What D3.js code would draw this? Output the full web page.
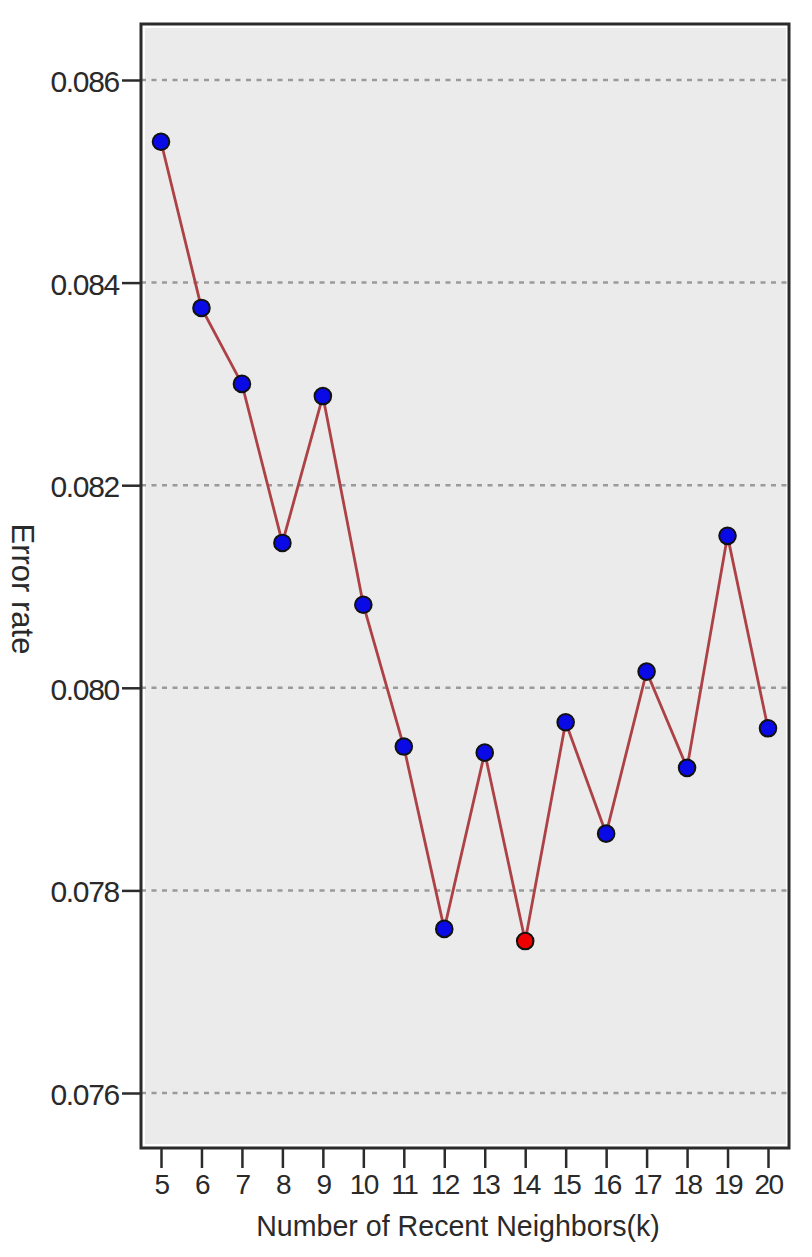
<!DOCTYPE html>
<html>
<head>
<meta charset="utf-8">
<script src="https://cdn.jsdelivr.net/npm/d3@7"></script>
<style>
  html, body { margin: 0; padding: 0; background: #ffffff; }
  svg { display: block; }
  text { font-family: "Liberation Sans", Arial, sans-serif; fill: #2a2a2a; }
</style>
</head>
<body>
<svg id="chart" width="812" height="1257"></svg>
<script>
// ---- data ----
const kValues = [5, 6, 7, 8, 9, 10, 11, 12, 13, 14, 15, 16, 17, 18, 19, 20];
const errorRates = [0.08539, 0.08375, 0.08300, 0.08143, 0.08288, 0.08082, 0.07942, 0.07762,
                    0.07936, 0.07750, 0.07966, 0.07856, 0.08016, 0.07921, 0.08150, 0.07960];
const yTicks = [0.076, 0.078, 0.080, 0.082, 0.084, 0.086];
const xLabel = "Number of Recent Neighbors(k)";
const yLabel = "Error rate";
const bestK = 14;

// ---- layout ----
const svg = d3.select("#chart");
const frame = { left: 141, top: 24, right: 789, bottom: 1148 };

const x = d3.scaleLinear().domain([5, 20]).range([161, 768]);
const y = d3.scaleLinear().domain([0.076, 0.086]).range([1093, 80]);

// panel
svg.append("rect")
  .attr("x", frame.left).attr("y", frame.top)
  .attr("width", frame.right - frame.left).attr("height", frame.bottom - frame.top)
  .attr("fill", "#ffffff");
svg.append("rect")
  .attr("x", frame.left + 4).attr("y", frame.top + 4)
  .attr("width", frame.right - frame.left - 7).attr("height", frame.bottom - frame.top - 8)
  .attr("fill", "#ebebeb");

// grid
svg.append("g").selectAll("line").data(yTicks).join("line")
  .attr("x1", frame.left).attr("x2", frame.right)
  .attr("y1", d => y(d)).attr("y2", d => y(d))
  .attr("stroke", "#9a9a9a").attr("stroke-width", 2.5)
  .attr("stroke-dasharray", "5,5.5");

// frame border
svg.append("rect")
  .attr("x", frame.left).attr("y", frame.top)
  .attr("width", frame.right - frame.left).attr("height", frame.bottom - frame.top)
  .attr("fill", "none").attr("stroke", "#2b2b2b").attr("stroke-width", 3);

// y axis
const yAxis = d3.axisLeft(y).tickValues(yTicks).tickFormat(d3.format(".3f"))
  .tickSize(19).tickPadding(3);
const gy = svg.append("g").attr("transform", `translate(${frame.left},0)`).call(yAxis);
gy.select(".domain").remove();
gy.selectAll(".tick line").attr("stroke", "#2b2b2b").attr("stroke-width", 2.5);
gy.selectAll(".tick text").attr("font-size", 30).attr("fill", "#2a2a2a")
  .attr("font-family", "'Liberation Sans', Arial, sans-serif")
  .attr("letter-spacing", "-1.3px")
  .attr("dy", "0.38em");

// x axis
const xAxis = d3.axisBottom(x).tickValues(kValues).tickFormat(d3.format("d"))
  .tickSize(20).tickPadding(6);
const gx = svg.append("g").attr("transform", `translate(0,${frame.bottom})`).call(xAxis);
gx.select(".domain").remove();
gx.selectAll(".tick line").attr("stroke", "#2b2b2b").attr("stroke-width", 2.5);
gx.selectAll(".tick text").attr("font-size", 28).attr("fill", "#2a2a2a")
  .attr("font-family", "'Liberation Sans', Arial, sans-serif")
  .attr("letter-spacing", "-1.6px");

// axis titles
svg.append("text")
  .attr("x", 458).attr("y", 1236)
  .attr("text-anchor", "middle")
  .attr("font-size", 28.6)
  .text(xLabel);
svg.append("text")
  .attr("transform", "translate(12,589) rotate(90)")
  .attr("text-anchor", "middle")
  .attr("font-size", 31)
  .text(yLabel);

// line
const data = kValues.map((k, i) => ({ k, v: errorRates[i] }));
svg.append("path")
  .datum(data)
  .attr("fill", "none")
  .attr("stroke", "#ad4246")
  .attr("stroke-width", 2.8)
  .attr("d", d3.line().x(d => x(d.k)).y(d => y(d.v)));

// points
svg.append("g").selectAll("circle").data(data).join("circle")
  .attr("cx", d => x(d.k)).attr("cy", d => y(d.v))
  .attr("r", 8.3)
  .attr("fill", d => d.k === bestK ? "#ee0000" : "#0a0ae6")
  .attr("stroke", "#111").attr("stroke-width", 2);
</script>
</body>
</html>
